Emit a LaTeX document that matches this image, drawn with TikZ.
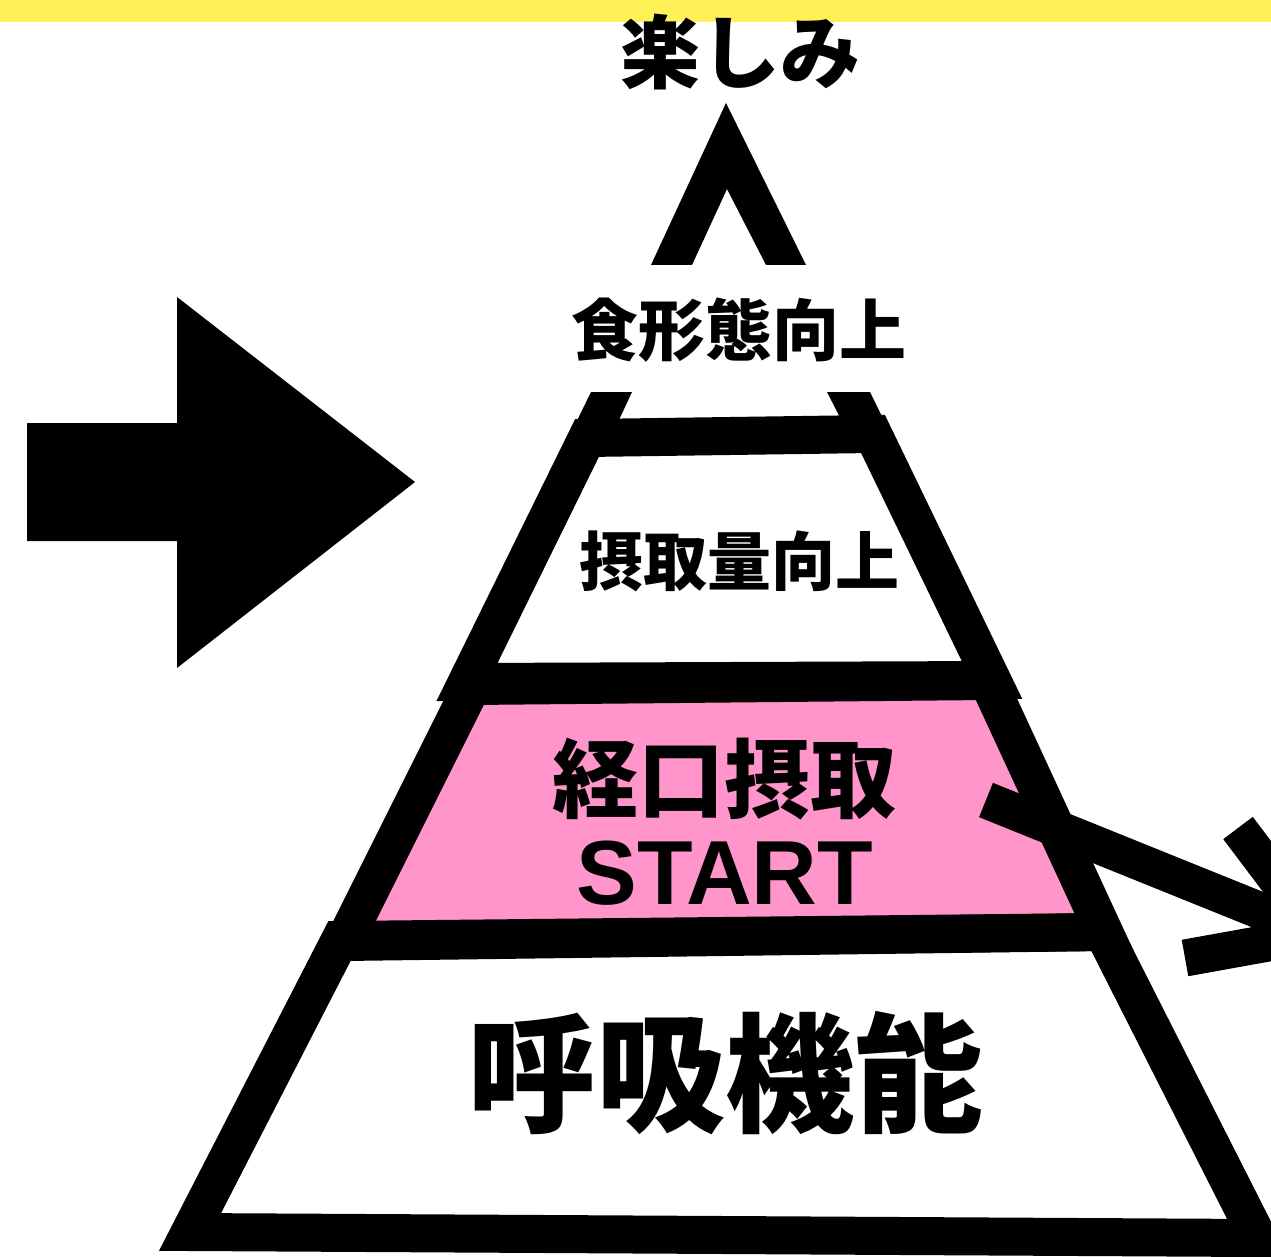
\documentclass[tikz,border=0pt]{standalone}
\usepackage{fontspec}
\newfontfamily\cjk{Noto Sans CJK JP}
\newfontfamily\latf{Liberation Sans}
\definecolor{bandyellow}{RGB}{255,240,85}
\definecolor{tierpink}{RGB}{255,149,203}
\begin{document}
\begin{tikzpicture}[x=1pt,y=-1pt,
  tier/.style={draw=black,line width=38pt,line join=miter,miter limit=20},
  lbl/.style={inner sep=0pt,anchor=center,text=black},
  bigarrow/.style={fill=black},
  openarrow/.style={draw=black,line width=37pt,line join=miter,miter limit=20}]
\useasboundingbox (0,0) rectangle (1271,1257);
\clip (0,0) rectangle (1271,1257);
\fill[white] (0,0) rectangle (1271,1257);
% yellow band
\fill[bandyellow] (0,0) rectangle (1271,22);

% left big arrow
\fill[bigarrow] (27,423) -- (177,423) -- (177,297) -- (415,482) -- (177,668) -- (177,541) -- (27,541) -- cycle;

% chevron at the top
\fill[black] (651,265) -- (726,103) -- (806,265) -- (766,265) -- (727,189) -- (692,265) -- cycle;

% tier 1 stubs
\fill[black] (591,392) -- (632,392) -- (611,437) -- (569,437) -- cycle;
\fill[black] (827,392) -- (870,392) -- (892,437) -- (850,437) -- cycle;

% tier 3 pink fill
\fill[tierpink] (472,686) -- (988,681) -- (1107,932) -- (344,942) -- cycle;

% tiers
\draw[tier] (587,438) -- (873,434) -- (992,680) -- (467,682) -- cycle;
\draw[tier] (472,686) -- (988,681) -- (1104,932) -- (344,942) -- cycle;
\draw[tier] (340,940) -- (1103,932) -- (1258,1238) -- (190,1232) -- cycle;

% right open arrow
\coordinate (ra) at (986,800);
\coordinate (rt) at (1318,934);
\coordinate (rb1) at (1238,828);
\coordinate (rb2) at (1185,958);
\draw[openarrow] (ra) -- (rt);
\draw[openarrow] (rb1) -- (rt) -- (rb2);

% labels
\node[lbl,font=\cjk\bfseries\fontsize{80}{80}\selectfont] (tjoy) at (740,52) {楽しみ};
\node[lbl,font=\cjk\bfseries\fontsize{67}{67}\selectfont] (tform) at (739,330) {食形態向上};
\node[lbl,font=\cjk\bfseries\fontsize{64}{64}\selectfont] (tamount) at (739,561) {摂取量向上};
\node[lbl,font=\cjk\bfseries\fontsize{86}{86}\selectfont] (toral) at (724,779) {経口摂取};
\node[lbl,font=\latf\bfseries\fontsize{91}{91}\selectfont] (tstart) at (725,873) {START};
\node[lbl,font=\cjk\bfseries\fontsize{129}{129}\selectfont] (tbreath) at (725,1073) {呼吸機能};
\end{tikzpicture}
\end{document}
